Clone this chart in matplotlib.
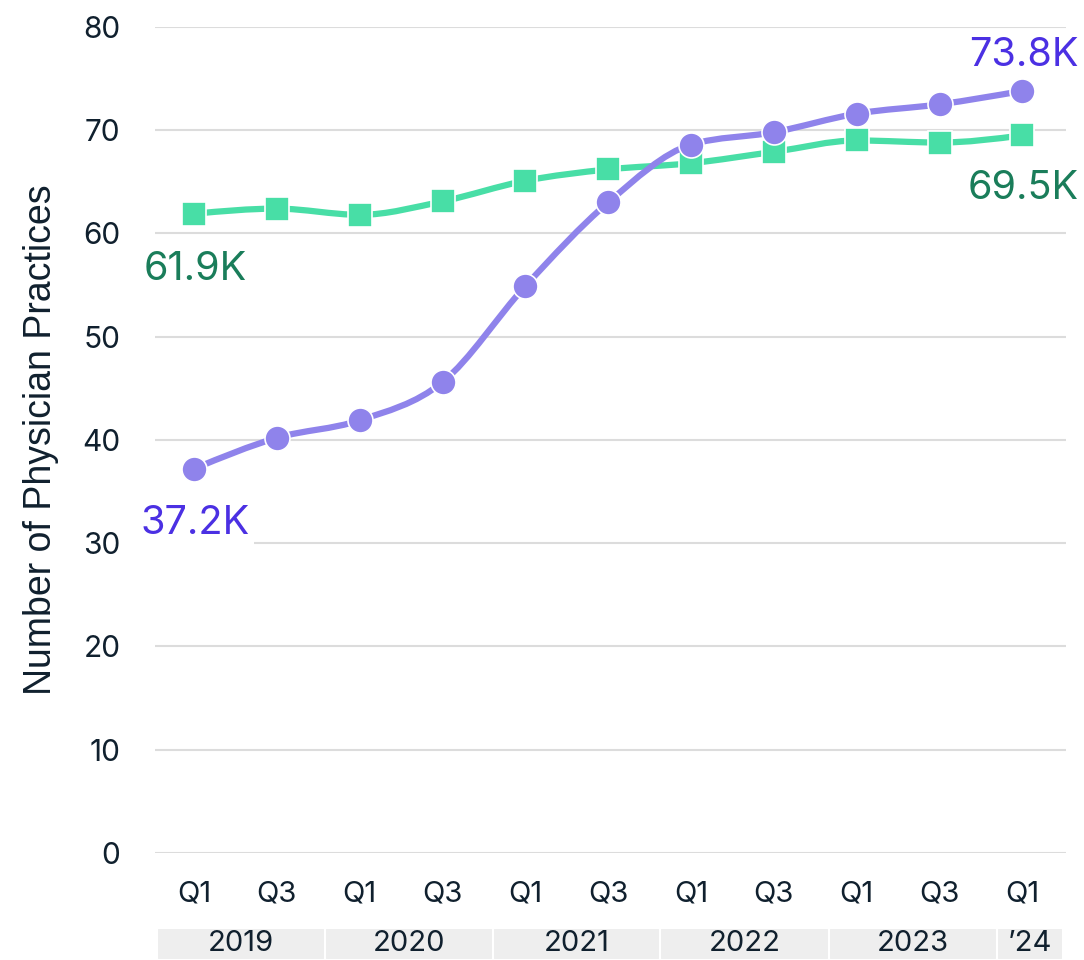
import matplotlib
matplotlib.use('Agg')
import matplotlib.pyplot as plt
import numpy as np
from matplotlib.path import Path
from matplotlib.patches import PathPatch, Rectangle
import matplotlib.transforms as mtransforms

# Data (thousands of practices)
quarters = ['Q1', 'Q3', 'Q1', 'Q3', 'Q1', 'Q3', 'Q1', 'Q3', 'Q1', 'Q3', 'Q1']
years = ['2019', '2020', '2021', '2022', '2023', '\u201924']
year_bounds = [-0.45, 1.58, 3.61, 5.63, 7.66, 9.69, 10.49]
purple_vals = [37.2, 40.2, 41.9, 45.6, 54.9, 63.0, 68.6, 69.8, 71.6, 72.5, 73.8]
green_vals = [61.9, 62.4, 61.8, 63.1, 65.1, 66.2, 66.8, 67.9, 69.0, 68.8, 69.5]
y_ticks = [0, 10, 20, 30, 40, 50, 60, 70, 80]

PURPLE = '#8f83eb'
PURPLE_TXT = '#4b30e3'
GREEN = '#48dea6'
GREEN_TXT = '#1a7d5a'
INK = '#10202e'

plt.rcParams['font.family'] = ['Inter', 'DejaVu Sans']


def monotone_path(x, y):
    """Build a smooth monotone cubic bezier path through the points (like d3 curveMonotoneX)."""
    x = np.asarray(x, float)
    y = np.asarray(y, float)
    n = len(x)
    h = np.diff(x)
    s = np.diff(y) / h
    t = np.zeros(n)
    for i in range(1, n - 1):
        if s[i - 1] * s[i] <= 0:
            t[i] = 0
        else:
            p = (s[i - 1] * h[i] + s[i] * h[i - 1]) / (h[i - 1] + h[i])
            t[i] = (np.sign(s[i - 1]) + np.sign(s[i])) * min(abs(s[i - 1]), abs(s[i]), 0.5 * abs(p))
    t[0] = (3 * s[0] - t[1]) / 2 if n > 2 else s[0]
    t[-1] = (3 * s[-1] - t[-2]) / 2 if n > 2 else s[-1]
    verts = [(x[0], y[0])]
    codes = [Path.MOVETO]
    for i in range(n - 1):
        dx = h[i] / 3
        verts += [(x[i] + dx, y[i] + dx * t[i]), (x[i + 1] - dx, y[i + 1] - dx * t[i + 1]), (x[i + 1], y[i + 1])]
        codes += [Path.CURVE4] * 3
    return Path(verts, codes)


fig = plt.figure(figsize=(10.84, 9.6), dpi=100)
ax = fig.add_axes([0.143, 0.1115, 0.84, 0.8605])

xs = np.arange(len(quarters))

# Smooth lines
ax.add_patch(PathPatch(monotone_path(xs, green_vals), fill=False, edgecolor=GREEN, lw=4.5,
                       capstyle='round', zorder=3))
ax.add_patch(PathPatch(monotone_path(xs, purple_vals), fill=False, edgecolor=PURPLE, lw=4.5,
                       capstyle='round', zorder=5))

# Markers
ax.plot(xs, green_vals, linestyle='none', marker='s', markersize=17.5, color=GREEN,
        markeredgecolor='white', markeredgewidth=1.2, zorder=4, clip_on=False)
ax.plot(xs, purple_vals, linestyle='none', marker='o', markersize=18, color=PURPLE,
        markeredgecolor='white', markeredgewidth=1.2, zorder=6, clip_on=False)

ax.set_xlim(-0.47, 10.52)
ax.set_ylim(0, 80)
ax.set_yticks(y_ticks)
ax.set_xticks(xs)
ax.set_xticklabels(quarters)
ax.grid(axis='y', color='#dcdcdc', lw=1.5)
ax.set_axisbelow(True)
for sp in ax.spines.values():
    sp.set_visible(False)
ax.tick_params(axis='y', length=0, pad=25, labelsize=21.5, labelcolor=INK)
ax.tick_params(axis='x', length=0, pad=20, labelsize=21, labelcolor=INK)
ax.set_ylabel('Number of Physician Practices', fontsize=27, color=INK, labelpad=17,
              family=['Liberation Sans', 'DejaVu Sans'])

# End-point labels
bb = dict(boxstyle='square,pad=0.1', facecolor='white', edgecolor='none')
ax.annotate('37.2K', (xs[0], purple_vals[0]), xytext=(1, -55), textcoords='offset pixels',
            ha='center', va='center', fontsize=28.5, color=PURPLE_TXT, bbox=bb, zorder=7)
ax.annotate('61.9K', (xs[0], green_vals[0]), xytext=(1, -56), textcoords='offset pixels',
            ha='center', va='center', fontsize=28.5, color=GREEN_TXT, zorder=7)
ax.annotate('73.8K', (xs[-1], purple_vals[-1]), xytext=(1, 35), textcoords='offset pixels',
            ha='center', va='center', fontsize=28.5, color=PURPLE_TXT, zorder=7,
            annotation_clip=False)
ax.annotate('69.5K', (xs[-1], green_vals[-1]), xytext=(1, -53), textcoords='offset pixels',
            ha='center', va='center', fontsize=28.5, color=GREEN_TXT, zorder=7)

# Year band under the quarter labels
trans = mtransforms.blended_transform_factory(ax.transData, ax.transAxes)
band_lo, band_hi = -0.1295, -0.0908
for i, yr in enumerate(years):
    x0, x1 = year_bounds[i], year_bounds[i + 1]
    ax.add_patch(Rectangle((x0, band_lo), x1 - x0, band_hi - band_lo, transform=trans,
                           facecolor='#eeeeee', edgecolor='white', lw=1.5, clip_on=False))
    ax.text((x0 + x1) / 2, (band_lo + band_hi) / 2, yr, transform=trans, ha='center',
            va='center', fontsize=21, color=INK)

fig.savefig('out.png', dpi=100)
